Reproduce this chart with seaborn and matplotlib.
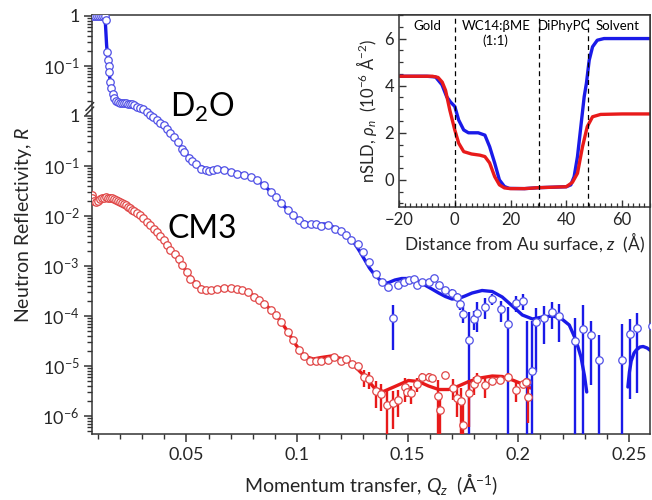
import numpy as np
import pandas as pd
import matplotlib
matplotlib.use('Agg')
import matplotlib.pyplot as plt
import matplotlib.ticker as mticker
import seaborn as sns

# ---- reflectivity data (log10 R) ----
# D2O contrast (plotted shifted up by two decades)
d2o_q = [0.0077, 0.0086, 0.0095, 0.0105, 0.0114, 0.0123, 0.0132, 0.0136, 0.0141, 0.01455,
         0.0148, 0.0150, 0.01545, 0.0159, 0.0166, 0.0173, 0.0182, 0.0191, 0.0200, 0.0209,
         0.0218, 0.0227, 0.0236, 0.0245, 0.0255, 0.0264, 0.0276, 0.0291, 0.0305, 0.0321,
         0.0336, 0.0350, 0.0367, 0.0382, 0.0397, 0.0412, 0.0427, 0.0442, 0.0460, 0.0480,
         0.0491, 0.0510, 0.0525, 0.0541, 0.0564, 0.0586, 0.0601, 0.0618, 0.0640, 0.0670,
         0.0700, 0.0730, 0.0760, 0.0791, 0.0821, 0.0851, 0.0882, 0.0905, 0.0927, 0.0958,
         0.0980, 0.1010, 0.1033, 0.1064, 0.1086, 0.1109, 0.1140, 0.1170, 0.1197, 0.1223,
         0.1245, 0.1273, 0.1299, 0.1324, 0.1355, 0.1382, 0.1409, 0.1435, 0.1458, 0.1485,
         0.1508, 0.1530, 0.1541, 0.1564, 0.1594, 0.1621, 0.1640, 0.1670, 0.1700, 0.1723,
         0.1738, 0.1750, 0.1779, 0.1799, 0.1814, 0.1849, 0.1882, 0.1920, 0.1955, 0.1988,
         0.2021, 0.2041, 0.2060, 0.2082, 0.2117, 0.2151, 0.2185, 0.2258, 0.2291, 0.2329,
         0.2364, 0.2468, 0.2503, 0.2538, 0.2605]
d2o_logR = [0.00, 0.00, 0.00, 0.00, 0.00, 0.00, 0.00, -0.08, -0.72, -0.88,
            -1.00, -1.12, -1.32, -1.44, -1.56, -1.64, -1.70, -1.72, -1.74, -1.74,
            -1.74, -1.74, -1.75, -1.76, -1.76, -1.78, -1.81, -1.84, -1.86, -1.91,
            -1.98, -2.02, -2.08, -2.13, -2.18, -2.25, -2.33, -2.41, -2.51, -2.65,
            -2.72, -2.83, -2.89, -2.96, -3.05, -3.08, -3.09, -3.08, -3.05, -3.07,
            -3.11, -3.15, -3.18, -3.21, -3.28, -3.38, -3.51, -3.61, -3.74, -3.87,
            -3.98, -4.08, -4.15, -4.16, -4.16, -4.20, -4.18, -4.25, -4.29, -4.38,
            -4.47, -4.55, -4.71, -4.91, -5.15, -5.31, -5.41, -6.03, -5.38, -5.31,
            -5.28, -5.25, -5.37, -5.31, -5.31, -5.23, -5.38, -5.48, -5.53, -5.61,
            -5.75, -5.95, -6.48, -6.05, -5.93, -5.81, -5.65, -5.86, -6.15, -5.73,
            -5.70, -7.31, -7.10, -6.11, -6.03, -5.91, -6.00, -6.49, -6.26, -6.38,
            -6.88, -6.88, -6.36, -6.23, -6.20]
# relative error dR/R
d2o_rel_err = [0] * 76 + [
    0.12, 0.78, 0.12, 0.10, 0.0, 0.0, 0.10, 0.0, 0.08, 0.08,
    0.10, 0.12, 0.15, 0.20, 0.25, 0.35, 2.6, 0.40, 0.60, 0.45,
    0.25, 0.45, 1.1, 0.35, 0.35, 15.0, 9.0, 0.9, 0.7, 0.55,
    0.7, 1.8, 2.0, 0.9, 2.2, 4.2, 0.95, 0.95, 0.9]

# CM3 contrast
cm3_q = [0.0071, 0.0073, 0.0082, 0.0091, 0.0100, 0.0109, 0.0118, 0.0127, 0.0136, 0.0145,
         0.0155, 0.0164, 0.0173, 0.0182, 0.0191, 0.0200, 0.0209, 0.0218, 0.0227, 0.0236,
         0.0245, 0.0255, 0.0264, 0.0277, 0.0291, 0.0305, 0.0321, 0.0336, 0.0351, 0.0367,
         0.0382, 0.0397, 0.0412, 0.0427, 0.0447, 0.0465, 0.0480, 0.0503, 0.0518, 0.0541,
         0.0564, 0.0586, 0.0609, 0.0640, 0.0670, 0.0700, 0.0730, 0.0753, 0.0779, 0.0806,
         0.0829, 0.0851, 0.0882, 0.0905, 0.0927, 0.0958, 0.0983, 0.1010, 0.1033, 0.1060,
         0.1086, 0.1109, 0.1140, 0.1167, 0.1197, 0.1220, 0.1248, 0.1273, 0.1302, 0.1326,
         0.1355, 0.1379, 0.1407, 0.1432, 0.1458, 0.1486, 0.1495, 0.1514, 0.1541, 0.1564,
         0.1594, 0.1609, 0.1635, 0.1647, 0.1670, 0.1703, 0.1723, 0.1741, 0.1750, 0.1776,
         0.1799, 0.1814, 0.1849, 0.1882, 0.1917, 0.1955, 0.1988, 0.2023, 0.2036, 0.2045]
cm3_logR = [-1.58, -1.64, -1.70, -1.72, -1.70, -1.66, -1.64, -1.63, -1.62, -1.63,
            -1.64, -1.64, -1.66, -1.68, -1.69, -1.71, -1.73, -1.76, -1.78, -1.81,
            -1.84, -1.87, -1.90, -1.94, -1.98, -2.04, -2.11, -2.18, -2.25, -2.32,
            -2.40, -2.48, -2.57, -2.67, -2.76, -2.85, -2.98, -3.11, -3.25, -3.35,
            -3.45, -3.48, -3.48, -3.45, -3.43, -3.43, -3.45, -3.47, -3.51, -3.61,
            -3.68, -3.76, -3.87, -3.98, -4.11, -4.31, -4.47, -4.67, -4.79, -4.90,
            -4.89, -4.89, -4.87, -4.81, -4.89, -4.85, -4.96, -4.99, -5.22, -5.26,
            -5.50, -5.55, -5.78, -5.74, -5.68, -5.42, -5.52, -5.54, -5.36, -5.21,
            -5.21, -5.24, -5.60, -5.87, -5.18, -5.43, -5.63, -5.69, -6.18, -5.53,
            -5.36, -5.25, -5.38, -5.29, -5.27, -5.21, -5.47, -5.36, -5.31, -5.61]
cm3_rel_err = [0] * 67 + [
    0.10, 0.38, 0.38, 0.55, 0.55, 1.1, 0.7, 0.55, 0.5, 0.2,
    0.4, 0.3, 0.15, 0.15, 0.15, 1.1, 1.1, 0.15, 0.45, 0.6,
    0.8, 2.0, 0.8, 0.4, 0.3, 0.45, 0.2, 0.2, 0.15, 0.45,
    0.15, 0.2, 0.7]

# ---- model fits ----
d2o_fit_q = [0.0073, 0.0123, 0.0130, 0.0134, 0.0139, 0.01455, 0.01545, 0.0164, 0.0173, 0.0186,
             0.0209, 0.0236, 0.0264, 0.0291, 0.0336, 0.0382, 0.0427, 0.0473, 0.0518, 0.0550,
             0.0586, 0.0623, 0.0664, 0.0709, 0.0755, 0.0800, 0.0836, 0.0873, 0.0909, 0.0945,
             0.0988, 0.1018, 0.1049, 0.1086, 0.1124, 0.1164, 0.1200, 0.1232, 0.1260, 0.1282,
             0.1306, 0.1327, 0.1351, 0.1382, 0.1409, 0.1442, 0.1473, 0.1503, 0.1549, 0.1577,
             0.1609, 0.1640, 0.1670, 0.1700, 0.1730, 0.1759, 0.1791, 0.1836, 0.1882, 0.1927,
             0.1973, 0.2018, 0.2064, 0.2109, 0.2155, 0.2191, 0.2230, 0.2260, 0.2283, 0.2299,
             0.2309]
d2o_fit_logR = [0.00, 0.00, -0.02, -0.18, -0.58, -0.92, -1.28, -1.50, -1.62, -1.70,
                -1.74, -1.75, -1.78, -1.84, -1.98, -2.13, -2.33, -2.60, -2.86, -2.98,
                -3.05, -3.06, -3.06, -3.11, -3.17, -3.24, -3.34, -3.48, -3.64, -3.82,
                -4.01, -4.09, -4.15, -4.16, -4.16, -4.22, -4.31, -4.42, -4.55, -4.70,
                -4.88, -5.04, -5.18, -5.31, -5.34, -5.28, -5.25, -5.25, -5.31, -5.38,
                -5.46, -5.54, -5.61, -5.66, -5.65, -5.60, -5.54, -5.49, -5.51, -5.62,
                -5.80, -5.98, -6.06, -6.02, -6.00, -6.04, -6.18, -6.48, -6.82, -7.20,
                -7.52]
d2o_fit_q_tail = [0.2495, 0.2502, 0.2510, 0.2523, 0.2533, 0.2550, 0.2564, 0.2582, 0.2600]
d2o_fit_logR_tail = [-7.42, -7.12, -6.90, -6.74, -6.68, -6.62, -6.61, -6.64, -6.70]

cm3_fit_q = [0.0073, 0.0109, 0.0155, 0.0191, 0.0227, 0.0264, 0.0300, 0.0336, 0.0382, 0.0427,
             0.0473, 0.0518, 0.0550, 0.0586, 0.0632, 0.0677, 0.0723, 0.0768, 0.0814, 0.0859,
             0.0905, 0.0950, 0.0995, 0.1032, 0.1073, 0.1109, 0.1155, 0.1200, 0.1232, 0.1260,
             0.1306, 0.1351, 0.1390, 0.1442, 0.1503, 0.1549, 0.1594, 0.1640, 0.1685, 0.1730,
             0.1776, 0.1827, 0.1882, 0.1927, 0.1973, 0.2018, 0.2055]
cm3_fit_logR = [-1.66, -1.66, -1.62, -1.66, -1.76, -1.88, -2.02, -2.18, -2.40, -2.66,
                -2.94, -3.22, -3.38, -3.47, -3.46, -3.43, -3.44, -3.50, -3.62, -3.78,
                -3.98, -4.26, -4.58, -4.80, -4.86, -4.83, -4.80, -4.85, -4.90, -5.00,
                -5.21, -5.45, -5.51, -5.41, -5.29, -5.31, -5.40, -5.47, -5.47, -5.40,
                -5.31, -5.24, -5.20, -5.21, -5.28, -5.36, -5.44]
d2o_offset = 100.0

# ---- inset: scattering length density profiles ----
sld_z_d2o = [-20, -10, -6.9, -4.6, -2.9, -1.5, 0, 1.4, 3.2, 4.9, 8.4, 10.8, 12.5, 14.3,
             16.0, 17.8, 19.5, 25, 30, 35, 40, 41.6, 42.8, 44.0, 45.2, 46.4, 47.2, 48.2,
             49.4, 51.1, 53.5, 60, 70]
sld_d2o = [4.40, 4.40, 4.37, 4.04, 3.53, 3.30, 3.12, 2.54, 2.12, 2.00, 2.00, 1.90, 1.41, 0.72,
           0.00, -0.28, -0.36, -0.37, -0.33, -0.31, -0.29, -0.21, 0.14, 0.99, 2.26, 3.53, 4.10,
           5.08, 5.65, 5.93, 6.00, 6.00, 6.00]
sld_z_cm3 = [-20, -8, -6, -4.5, -3.3, -1.8, 0, 1.4, 3.2, 6.0, 9.0, 10.8, 12.5, 14.3, 16.0,
             17.8, 20, 25, 30, 35, 40, 42.2, 44.0, 45.8, 47.5, 49.4, 52.3, 60, 70]
sld_cm3 = [4.40, 4.40, 4.35, 4.15, 3.80, 2.97, 2.12, 1.56, 1.20, 1.10, 1.05, 0.99, 0.72, 0.14,
           -0.21, -0.34, -0.37, -0.37, -0.33, -0.31, -0.29, -0.10, 0.28, 1.41, 2.26, 2.68,
           2.78, 2.80, 2.80]
layer_edges = [0, 30.2, 47.7]
layer_names = ['Gold', 'WC14:βME\n(1:1)', 'DiPhyPC', 'Solvent']
layer_centres = [-10, 14.7, 39, 58.5]

ytick_pos = [1e2, 1e1, 1e0, 1e-1, 1e-2, 1e-3, 1e-4, 1e-5, 1e-6]
ytick_lab = ['1', '10$^{-1}$', '1', '10$^{-1}$', '10$^{-2}$', '10$^{-3}$',
             '10$^{-4}$', '10$^{-5}$', '10$^{-6}$']
xtick_pos = [0.05, 0.1, 0.15, 0.2, 0.25]
xtick_lab = ['0.05', '0.1', '0.15', '0.2', '0.25']

blue = '#1a1ae8'
red = '#e81a1a'
blue_mk = '#5050e6'
red_mk = '#e04646'

sns.set_style('ticks')
plt.rcParams['font.family'] = ['Lato', 'DejaVu Sans']
plt.rcParams['mathtext.fontset'] = 'custom'
plt.rcParams['mathtext.rm'] = 'Lato'
plt.rcParams['mathtext.it'] = 'Lato:italic'
plt.rcParams['mathtext.bf'] = 'Lato:bold'
plt.rcParams['text.color'] = 'black'
plt.rcParams['axes.edgecolor'] = '#333333'


def errbars(ax, q, logR, rel, scale, color):
    q = np.asarray(q)
    R = 10 ** np.asarray(logR) * scale
    rel = np.asarray(rel, dtype=float)
    m = rel > 0
    lo = R * (1 - rel)
    lo = np.where(lo <= 0, 1e-12, lo)
    hi = R * (1 + rel)
    ax.vlines(q[m], lo[m], hi[m], colors=color, lw=1.7, zorder=3)


fig = plt.figure(figsize=(6.52, 5.0), dpi=100)
ax = fig.add_axes([92 / 652, 1 - 434 / 500, 558 / 652, 419 / 500])
ax.set_yscale('log')

fit_d2o = pd.DataFrame({'q': d2o_fit_q, 'R': 10 ** np.array(d2o_fit_logR) * d2o_offset})
fit_d2o_tail = pd.DataFrame({'q': d2o_fit_q_tail, 'R': 10 ** np.array(d2o_fit_logR_tail) * d2o_offset})
fit_cm3 = pd.DataFrame({'q': cm3_fit_q, 'R': 10 ** np.array(cm3_fit_logR)})
sns.lineplot(data=fit_d2o, x='q', y='R', color=blue, lw=2.4, sort=False, estimator=None, ax=ax, zorder=2)
sns.lineplot(data=fit_d2o_tail, x='q', y='R', color=blue, lw=2.4, sort=False, estimator=None, ax=ax, zorder=2)
sns.lineplot(data=fit_cm3, x='q', y='R', color=red, lw=2.4, sort=False, estimator=None, ax=ax, zorder=2)

errbars(ax, d2o_q, d2o_logR, d2o_rel_err, d2o_offset, blue)
errbars(ax, cm3_q, cm3_logR, cm3_rel_err, 1.0, red)

sns.scatterplot(x=d2o_q, y=10 ** np.array(d2o_logR) * d2o_offset, marker='o', s=29,
                color='white', edgecolor=blue_mk, linewidth=0.9, ax=ax, zorder=4)
sns.scatterplot(x=cm3_q, y=10 ** np.array(cm3_logR), marker='o', s=29,
                color='white', edgecolor=red_mk, linewidth=0.9, ax=ax, zorder=4)

ax.set_xlim(0.0073, 0.2595)
ax.set_ylim(10 ** -6.36, 10 ** 2.02)
ax.set_xticks(xtick_pos, xtick_lab)
ax.xaxis.set_minor_locator(mticker.MultipleLocator(0.01))
ax.set_yticks(ytick_pos, ytick_lab)
ax.yaxis.set_minor_locator(mticker.LogLocator(base=10, subs=np.arange(2, 10), numticks=40))
ax.yaxis.set_minor_formatter(mticker.NullFormatter())
ax.tick_params(axis='both', which='major', direction='out', length=6, width=1.1,
               labelsize=13, pad=3, color='#333333')
ax.tick_params(axis='both', which='minor', direction='out', length=3.5, width=1.0, color='#333333')
for s in ax.spines.values():
    s.set_linewidth(1.1)

# axis break marks
tr = ax.get_yaxis_transform()
for y0 in (0.02, 0.11):
    ax.plot([-0.011, 0.003], [10 ** y0, 10 ** (y0 + 0.16)], color='#333333', lw=1.1,
            transform=tr, clip_on=False, zorder=6)

ax.set_xlabel('Momentum transfer, $Q_z$  (Å$^{-1}$)', fontsize=14, labelpad=6)
ax.set_ylabel('Neutron Reflectivity, $R$', fontsize=14, labelpad=6)
ax.text(0.0573, 10 ** 0.18, 'D$_2$O', fontsize=23, ha='center', va='center')
ax.text(0.0573, 10 ** -2.26, 'CM3', fontsize=23, ha='center', va='center')

# inset
ins = fig.add_axes([399 / 652, 1 - 207 / 500, 251 / 652, 192 / 500])
ins.set_facecolor('white')
sns.lineplot(x=sld_z_d2o, y=sld_d2o, color=blue, lw=2.4, sort=False, estimator=None, ax=ins)
sns.lineplot(x=sld_z_cm3, y=sld_cm3, color=red, lw=2.4, sort=False, estimator=None, ax=ins)
for z in layer_edges:
    ins.axvline(z, color='black', lw=0.9, ls=(0, (4, 3)))
for zc, name in zip(layer_centres, layer_names):
    ins.text(zc, 6.8, name, fontsize=9.5, ha='center', va='top', linespacing=1.25)
ins.set_xlim(-20, 70)
ins.set_ylim(-1.15, 7.0)
ins.set_xticks([-20, 0, 20, 40, 60])
ins.set_yticks([0, 2, 4, 6])
ins.xaxis.set_minor_locator(mticker.MultipleLocator(2))
ins.yaxis.set_minor_locator(mticker.MultipleLocator(0.5))
ins.tick_params(axis='both', which='major', direction='in', length=5, width=1.0,
                labelsize=12, color='#333333')
ins.tick_params(axis='both', which='minor', direction='in', length=3, width=0.9, color='#333333')
for s in ins.spines.values():
    s.set_linewidth(1.1)
ins.set_xlabel('Distance from Au surface, $z$  (Å)', fontsize=12.5, labelpad=2)
ins.set_ylabel('nSLD, $\\rho_n$  (10$^{-6}$ Å$^{-2}$)', fontsize=12, labelpad=4)

fig.savefig('out.png', dpi=100)
